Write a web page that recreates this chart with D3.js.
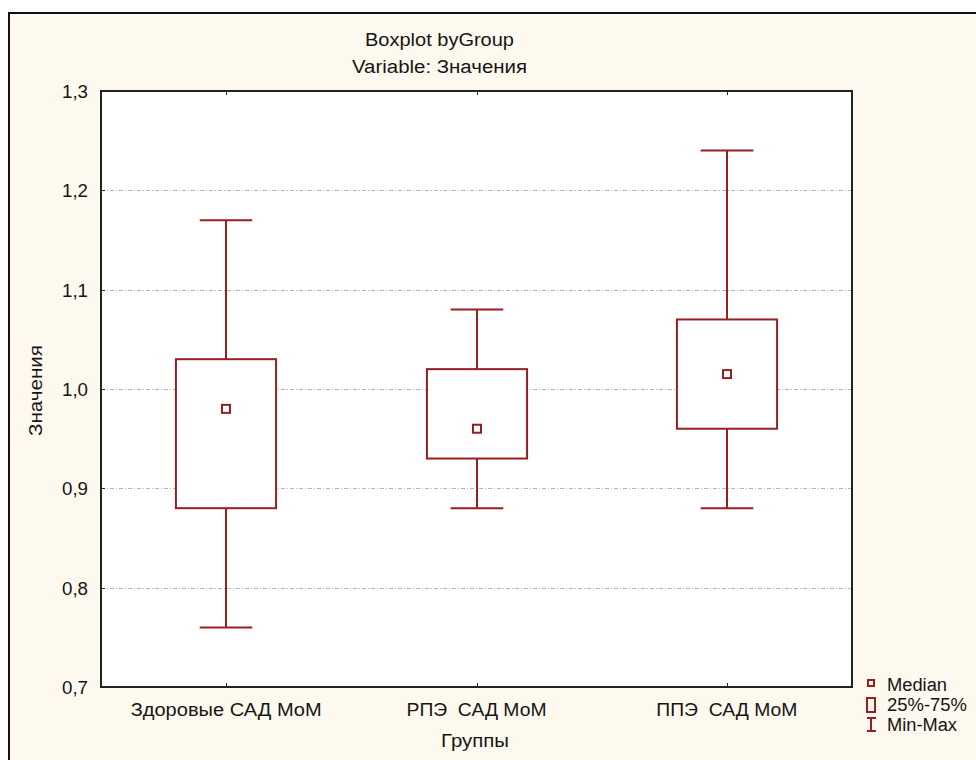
<!DOCTYPE html>
<html>
<head>
<meta charset="utf-8">
<script src="https://cdn.jsdelivr.net/npm/d3@7"></script>
<style>
  html, body { margin: 0; padding: 0; background: #ffffff; }
  svg { display: block; }
  text { font-family: "Liberation Sans", Arial, sans-serif; fill: #151515; }
</style>
</head>
<body>
<svg id="chart" width="976" height="760"></svg>
<script>
// Groups and their summary statistics
const groups = ["Здоровые САД МоМ", "РПЭ  САД МоМ", "ППЭ  САД МоМ"];
const minValues = [0.76, 0.88, 0.88];
const q1Values = [0.88, 0.93, 0.96];
const medianValues = [0.98, 0.96, 1.015];
const q3Values = [1.03, 1.02, 1.07];
const maxValues = [1.17, 1.08, 1.24];
const yTicks = [0.7, 0.8, 0.9, 1.0, 1.1, 1.2, 1.3];
const legendItems = ["Median", "25%-75%", "Min-Max"];

const titleText = "Boxplot byGroup";
const subtitleText = "Variable: Значения";
const xTitle = "Группы";
const yTitle = "Значения";

// Text run widths for the condensed label face
const groupLabelWidths = [191, 140, 141];
const legendWidths = [60, 80, 70];

const fontSize = 18;
const boxColor = "#981e22";
const svg = d3.select("#chart");

// Outer panel
svg.append("rect").attr("x", 0).attr("y", 0).attr("width", 976).attr("height", 760).attr("fill", "#ffffff");
svg.append("rect").attr("x", 9).attr("y", 13).attr("width", 980).attr("height", 760)
  .attr("fill", "#fef9ee").attr("stroke", "#111").attr("stroke-width", 2);

const plot = { left: 101, top: 91, right: 852, bottom: 687 };

const x = d3.scaleBand().domain(groups).range([plot.left, plot.right]).padding(0);
const y = d3.scaleLinear().domain([0.7, 1.3]).range([plot.bottom, plot.top]);

// Plot background
svg.append("rect")
  .attr("x", plot.left).attr("y", plot.top)
  .attr("width", plot.right - plot.left).attr("height", plot.bottom - plot.top)
  .attr("fill", "#ffffff");

// Grid lines
svg.append("g").selectAll("line")
  .data(yTicks.filter(t => t > 0.7 && t < 1.3))
  .join("line")
  .attr("x1", plot.left).attr("x2", plot.right)
  .attr("y1", d => Math.round(y(d)) + 0.5).attr("y2", d => Math.round(y(d)) + 0.5)
  .attr("stroke", "#b4b4b4").attr("stroke-width", 1)
  .attr("stroke-dasharray", "4,2,1,2");

// Y axis labels
const fmt = d => d3.format(".1f")(d).replace(".", ",");
svg.append("g").selectAll("text")
  .data(yTicks)
  .join("text")
  .attr("x", 62).attr("y", d => y(d) + 7)
  .attr("font-size", fontSize)
  .attr("textLength", 26)
  .attr("lengthAdjust", "spacingAndGlyphs")
  .text(fmt);

// Inner ticks on left edge
svg.append("g").selectAll("line")
  .data(yTicks)
  .join("line")
  .attr("x1", plot.left).attr("x2", plot.left + 4)
  .attr("y1", d => Math.round(y(d)) + 0.5).attr("y2", d => Math.round(y(d)) + 0.5)
  .attr("stroke", "#222").attr("stroke-width", 1);

// Category ticks on top and bottom edges
const centers = groups.map(g => x(g) + x.bandwidth() / 2);
svg.append("g").selectAll("line")
  .data(centers)
  .join("line")
  .attr("x1", d => Math.round(d) + 0.5).attr("x2", d => Math.round(d) + 0.5)
  .attr("y1", plot.top).attr("y2", plot.top + 4)
  .attr("stroke", "#222");
svg.append("g").selectAll("line")
  .data(centers)
  .join("line")
  .attr("x1", d => Math.round(d) + 0.5).attr("x2", d => Math.round(d) + 0.5)
  .attr("y1", plot.bottom).attr("y2", plot.bottom - 4)
  .attr("stroke", "#222");

// Boxes
const bw = x.bandwidth() * 0.4;
const cw = x.bandwidth() * 0.21;
const boxes = svg.append("g").attr("stroke", boxColor).attr("stroke-width", 2);
groups.forEach((g, i) => {
  const cx = Math.round(x(g) + x.bandwidth() / 2);
  // whiskers
  boxes.append("line").attr("x1", cx).attr("x2", cx).attr("y1", y(maxValues[i])).attr("y2", y(q3Values[i]));
  boxes.append("line").attr("x1", cx).attr("x2", cx).attr("y1", y(q1Values[i])).attr("y2", y(minValues[i]));
  boxes.append("line").attr("x1", cx - cw / 2).attr("x2", cx + cw / 2).attr("y1", y(maxValues[i])).attr("y2", y(maxValues[i]));
  boxes.append("line").attr("x1", cx - cw / 2).attr("x2", cx + cw / 2).attr("y1", y(minValues[i])).attr("y2", y(minValues[i]));
  // box
  boxes.append("rect")
    .attr("x", cx - bw / 2).attr("y", y(q3Values[i]))
    .attr("width", bw).attr("height", y(q1Values[i]) - y(q3Values[i]))
    .attr("fill", "#ffffff");
  // median marker
  boxes.append("rect")
    .attr("x", cx - 4).attr("y", y(medianValues[i]) - 4)
    .attr("width", 8).attr("height", 8)
    .attr("fill", "#ffffff");
});

// Plot frame
svg.append("rect")
  .attr("x", plot.left).attr("y", plot.top)
  .attr("width", plot.right - plot.left).attr("height", plot.bottom - plot.top)
  .attr("fill", "none").attr("stroke", "#222").attr("stroke-width", 2);

// Category labels
svg.append("g").selectAll("text")
  .data(groups)
  .join("text")
  .attr("x", (d, i) => x(d) + x.bandwidth() / 2 - groupLabelWidths[i] / 2)
  .attr("y", 716)
  .attr("font-size", fontSize)
  .attr("xml:space", "preserve")
  .style("white-space", "pre")
  .attr("textLength", (d, i) => groupLabelWidths[i])
  .attr("lengthAdjust", "spacingAndGlyphs")
  .text(d => d);

// Titles
svg.append("text").attr("x", 365).attr("y", 46).attr("font-size", fontSize)
  .attr("textLength", 149).attr("lengthAdjust", "spacingAndGlyphs").text(titleText);
svg.append("text").attr("x", 352).attr("y", 73).attr("font-size", fontSize)
  .attr("textLength", 175).attr("lengthAdjust", "spacingAndGlyphs").text(subtitleText);
svg.append("text").attr("x", 441).attr("y", 747).attr("font-size", fontSize)
  .attr("textLength", 68).attr("lengthAdjust", "spacingAndGlyphs").text(xTitle);
svg.append("text")
  .attr("transform", "translate(42,436) rotate(-90)")
  .attr("font-size", fontSize)
  .attr("textLength", 91).attr("lengthAdjust", "spacingAndGlyphs").text(yTitle);

// Legend
const leg = svg.append("g").attr("stroke", boxColor).attr("stroke-width", 2).attr("fill", "none");
leg.append("rect").attr("x", 868).attr("y", 680).attr("width", 6).attr("height", 6);
leg.append("rect").attr("x", 867).attr("y", 698).attr("width", 8).attr("height", 14);
leg.append("line").attr("x1", 871).attr("x2", 871).attr("y1", 718).attr("y2", 731);
leg.append("line").attr("x1", 867).attr("x2", 876).attr("y1", 718).attr("y2", 718);
leg.append("line").attr("x1", 867).attr("x2", 876).attr("y1", 731).attr("y2", 731);
svg.append("g").selectAll("text")
  .data(legendItems)
  .join("text")
  .attr("x", 887).attr("y", (d, i) => 691 + i * 20)
  .attr("font-size", fontSize)
  .attr("textLength", (d, i) => legendWidths[i])
  .attr("lengthAdjust", "spacingAndGlyphs")
  .text(d => d);
</script>
</body>
</html>
